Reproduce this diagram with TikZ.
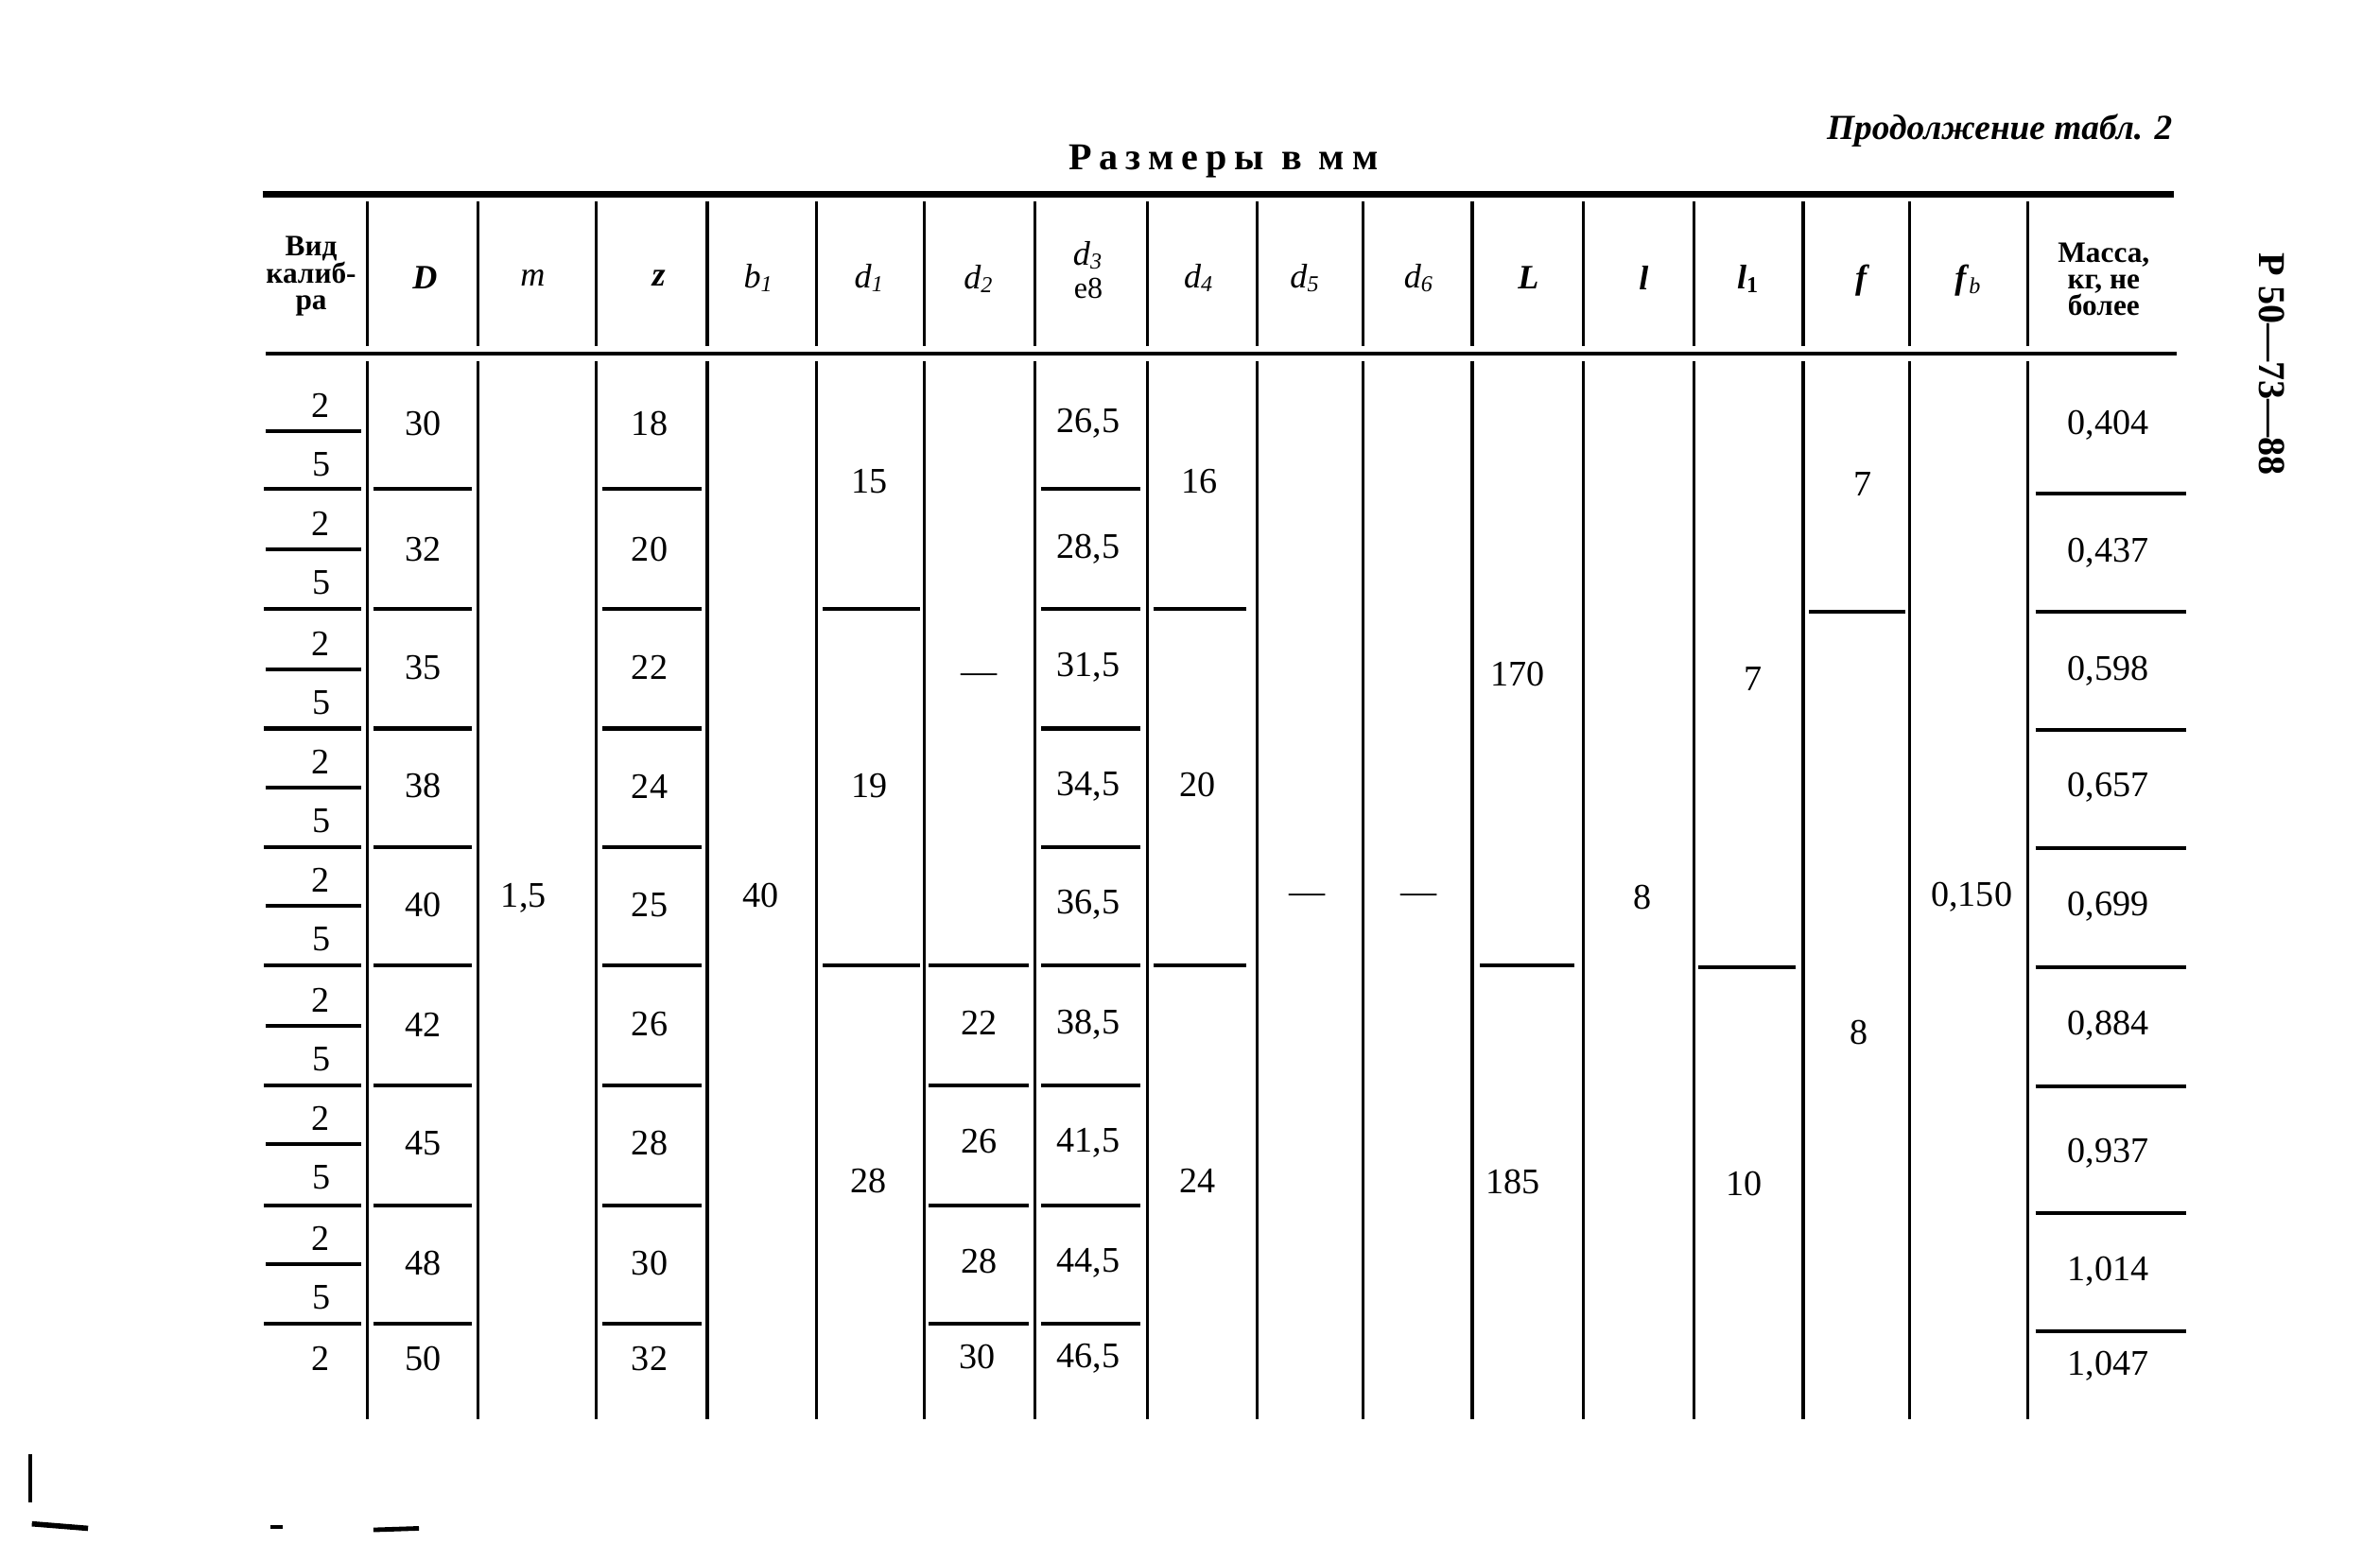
\documentclass[tikz,border=0pt]{standalone}
\usepackage{fontspec}
\setmainfont{Liberation Serif}
\usetikzlibrary{positioning}

\newcommand{\symb}[2]{\textit{#1}\textsubscript{\textit{#2}}}

\tikzset{
  cell/.style={font=\fontsize{9.5}{11}\selectfont, inner sep=1pt},
  headtxt/.style={font=\bfseries\fontsize{7.8}{7}\selectfont, align=center, inner sep=1pt},
  headsym/.style={font=\fontsize{9}{10}\selectfont, inner sep=1pt},
  vline/.style={line width=0.8pt},
  hsep/.style={line width=1pt},
  thickrule/.style={line width=1.6pt}
}

\begin{document}
\begin{tikzpicture}[x=0.4pt,y=-0.4pt]
\useasboundingbox (0,0) rectangle (1568,1017);

% captions
\node[anchor=east, font=\bfseries\itshape\fontsize{9.3}{11}\selectfont] (cont) at (1440,86) {Продолжение табл. 2};
\node[font=\bfseries\fontsize{10}{11}\selectfont\addfontfeature{LetterSpace=20}] (units) at (806,106) {Размеры в мм};
\node[rotate=-90, font=\bfseries\fontsize{10}{11}\selectfont] (stdno) at (1497,240) {Р 50—73—88};

% rules
\draw[thickrule] (173,128) -- (1432,128);
\draw[line width=1.2pt] (175,233) -- (1434,233);
\foreach \xx in {242,315,393,466,538,609,682,756,828,898,970,1043,1116,1188,1258,1336} {
  \draw[vline] (\xx,133) -- (\xx,228);
  \draw[vline] (\xx,238) -- (\xx,935);
}

% header
\node[headtxt] (hvid) at (205,182) {Вид\\калиб-\\ра};
\node[headsym] (hD) at (280,183) {\textbf{\textit{D}}};
\node[headsym] (hm) at (351,183) {\textit{m}};
\node[headsym] (hz) at (434,183) {\textbf{\textit{z}}};
\node[headsym] (hb1) at (500,183) {\symb{b}{1}};
\node[headsym] (hd1) at (573,183) {\symb{d}{1}};
\node[headsym] (hd2) at (645,184) {\symb{d}{2}};
\node[headsym, inner sep=0pt] (hd3) at (717,168) {\symb{d}{3}};
\node[headsym, inner sep=0pt, font=\fontsize{8}{9}\selectfont] (he8) at (717,190) {e8};
\node[headsym] (hd4) at (790,183) {\symb{d}{4}};
\node[headsym] (hd5) at (860,183) {\symb{d}{5}};
\node[headsym] (hd6) at (935,183) {\symb{d}{6}};
\node[headsym] (hL) at (1007,183) {\textbf{\textit{L}}};
\node[headsym] (hl) at (1083,183) {\textbf{\textit{l}}};
\node[headsym] (hl1) at (1152,184) {\textbf{\textit{l}}\textsubscript{\textbf{1}}};
\node[headsym] (hf) at (1227,185) {\textbf{\textit{f}}};
\node[headsym] (hfb) at (1297,185) {\textbf{\textit{f}}\textsubscript{\textit{b}}};
\node[headtxt] (hmass) at (1386,184) {Масса,\\кг, не\\более};

% gauge type column
\foreach \yy [count=\i] in {267,345,424,502,580,659,737,816} {
  \node[cell] (vtop\i) at (211,\yy) {2};
  \node[cell] (vbot\i) at (212,\yy+39) {5};
  \draw[hsep] (175,\yy+17) -- (238,\yy+17);
}
\node[cell] (vtop9) at (211,895) {2};

% row separators
\foreach \yy in {322,401,480,558,636,715,794,872} {
  \draw[hsep] (174,\yy) -- (238,\yy);
  \draw[hsep] (246,\yy) -- (311,\yy);
  \draw[hsep] (397,\yy) -- (462,\yy);
  \draw[hsep] (686,\yy) -- (751,\yy);
}
\foreach \yy in {325,403,481,559,637,716,799,877}
  \draw[hsep] (1341,\yy) -- (1440,\yy);
\foreach \yy in {401,636} {
  \draw[hsep] (542,\yy) -- (606,\yy);
  \draw[hsep] (760,\yy) -- (821,\yy);
}
\foreach \yy in {636,715,794,872}
  \draw[hsep] (612,\yy) -- (678,\yy);
\draw[hsep] (975,636) -- (1037,636);
\draw[hsep] (1119,637) -- (1183,637);
\draw[hsep] (1192,403) -- (1255,403);

% per-row values
\foreach \dd/\zz/\dth/\yy [count=\i] in {30/18/26{,}5/279, 32/20/28{,}5/362, 35/22/31{,}5/440,
    38/24/34{,}5/518, 40/25/36{,}5/596, 42/26/38{,}5/675, 45/28/41{,}5/753,
    48/30/44{,}5/832, 50/32/46{,}5/895} {
  \node[cell] (D\i) at (279,\yy) {\dd};
  \node[cell] (z\i) at (428,\yy) {\zz};
  \node[cell] (dth\i) at (717,\yy) {\dth};
}
\foreach \mm/\yy [count=\i] in {0{,}404/280, 0{,}437/364, 0{,}598/442, 0{,}657/519, 0{,}699/597,
    0{,}884/676, 0{,}937/760, 1{,}014/838, 1{,}047/900}
  \node[cell] (mass\i) at (1389,\yy) {\mm};

% merged cells
\node[cell] (m) at (345,592) {1,5};
\node[cell] (b1) at (501,590) {40};
\node[cell] (dA) at (573,317) {15};
\node[cell] (dB) at (573,518) {19};
\node[cell] (dC) at (572,778) {28};
\node[cell] (dtA) at (645,447) {—};
\node[cell] (dtB) at (645,674) {22};
\node[cell] (dtC) at (645,752) {26};
\node[cell] (dtD) at (645,831) {28};
\node[cell] (dtE) at (644,894) {30};
\node[cell] (dfA) at (790,317) {16};
\node[cell] (dfB) at (789,517) {20};
\node[cell] (dfC) at (789,778) {24};
\node[cell] (d5) at (861,592) {—};
\node[cell] (d6) at (935,592) {—};
\node[cell] (LA) at (1000,444) {170};
\node[cell] (LB) at (997,779) {185};
\node[cell] (l) at (1082,591) {8};
\node[cell] (lA) at (1155,447) {7};
\node[cell] (lB) at (1149,780) {10};
\node[cell] (fA) at (1227,319) {7};
\node[cell] (fB) at (1225,680) {8};
\node[cell] (fb) at (1299,591) {0,150};

% scan marks
\draw[line width=0.8pt] (20,958) -- (20,990);
\draw[line width=1.4pt] (21,1004) -- (58,1007);
\draw[line width=1pt] (178,1006) -- (186,1006);
\draw[line width=1.2pt] (246,1008) -- (276,1007);
\end{tikzpicture}
\end{document}
